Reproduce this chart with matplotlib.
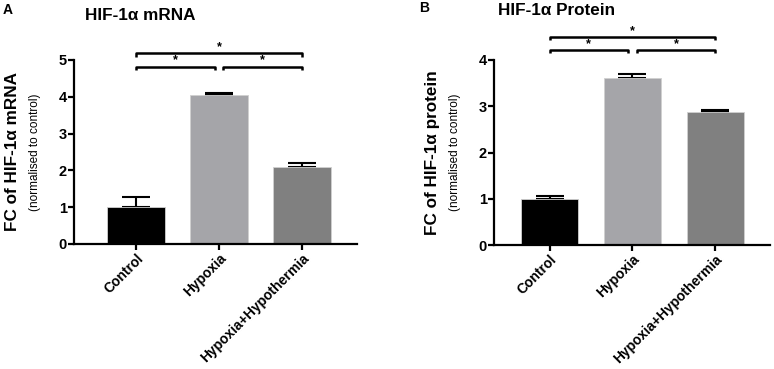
import matplotlib.pyplot as plt

plt.rcParams['font.family'] = ['Liberation Sans', 'DejaVu Sans']

groups = ["Control", "Hypoxia", "Hypoxia+Hypothermia"]
bar_colors = ["#000000", "#a5a5a9", "#808080"]

mrna_mean = [1.0, 4.05, 2.10]
mrna_err = [0.29, 0.06, 0.11]

protein_mean = [1.0, 3.62, 2.88]
protein_err = [0.06, 0.07, 0.03]

# pairs compared, all marked "*"
comparisons = [(0, 1), (1, 2), (0, 2)]


def draw_panel(fig, rect, means, errs, ymax, xlim, ylab,
               br_low, br_high, tick_len):
    ax = fig.add_axes(rect)
    x = list(range(len(groups)))
    ax.bar(x, means, width=0.69, color=bar_colors, edgecolor="#d0d0d0",
           linewidth=0.6, zorder=2)
    ax.errorbar(x, means, yerr=[[0] * len(errs), errs], fmt="none",
                ecolor="black", elinewidth=1.5, capsize=10, capthick=1.5,
                zorder=1)
    ax.set_xlim(*xlim)
    ax.set_ylim(0, ymax)
    ax.set_yticks(range(0, ymax + 1))
    ax.set_xticks(x)
    ax.set_xticklabels(groups, rotation=45, ha="right", rotation_mode="anchor",
                       fontsize=10, fontweight="bold")
    for lab in ax.get_yticklabels():
        lab.set_fontweight("bold")
        lab.set_fontsize(10.5)
    for s in ["top", "right"]:
        ax.spines[s].set_visible(False)
    for s in ["left", "bottom"]:
        ax.spines[s].set_linewidth(1.6)
    ax.tick_params(width=1.6, length=4, pad=1)

    # significance brackets
    for a, b in comparisons:
        if b - a == 2:
            y = br_high
            x0, x1 = a, b
        else:
            y = br_low
            x0 = a + (0.05 if a > 0 else 0)
            x1 = b - (0.05 if b < 2 else 0)
        ax.plot([x0, x0, x1, x1], [y - tick_len, y, y, y - tick_len],
                color="black", lw=1.8, clip_on=False, solid_capstyle="butt")
        ax.text((x0 + x1) / 2, y, "*", ha="center", va="bottom", fontsize=9,
                fontweight="bold")

    fx = rect[0]
    fig.text(fx - 0.079, rect[1] + rect[3] * 0.5, ylab, rotation=90,
             ha="center", va="center", fontsize=12.3, fontweight="bold")
    fig.text(fx - 0.050, rect[1] + rect[3] * 0.5, "(normalised to control)",
             rotation=90, ha="center", va="center", fontsize=8.5)
    return ax


fig = plt.figure(figsize=(7.74, 3.69), dpi=100)

draw_panel(fig, [0.0956, 0.3388, 0.3656, 0.4986], mrna_mean, mrna_err, 5,
           (-0.747, 2.66), "FC of HIF-1\u03b1 mRNA", 4.82, 5.18, 0.09)
draw_panel(fig, [0.6382, 0.336, 0.3566, 0.5014], protein_mean, protein_err, 4,
           (-0.67, 2.66), "FC of HIF-1\u03b1 protein", 4.22, 4.50, 0.07)

fig.text(0.004, 0.972, "A", fontsize=10, fontweight="bold", va="center")
fig.text(0.110, 0.958, "HIF-1\u03b1 mRNA", fontsize=12.3, fontweight="bold",
         va="center")
fig.text(0.541, 0.977, "B", fontsize=10, fontweight="bold", va="center")
fig.text(0.643, 0.972, "HIF-1\u03b1 Protein", fontsize=12.3,
         fontweight="bold", va="center")

fig.savefig("out.png", dpi=100)
